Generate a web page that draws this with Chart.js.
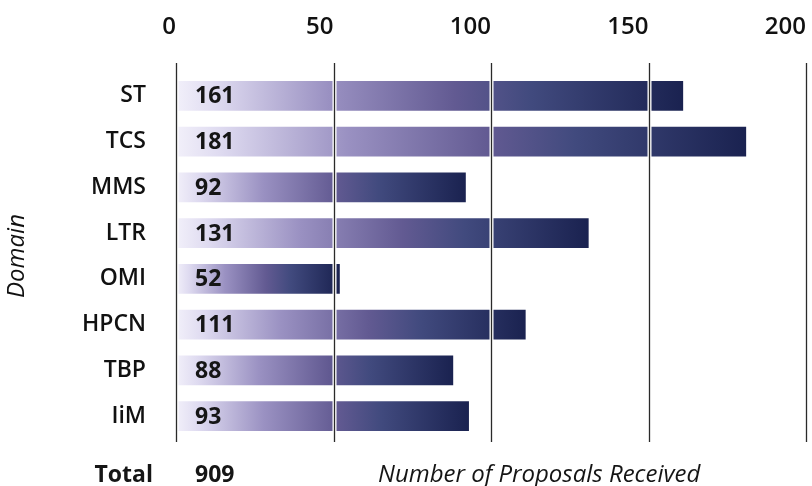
<!DOCTYPE html>
<html>
<head>
<meta charset="utf-8">
<script src="https://cdn.jsdelivr.net/npm/chart.js@4"></script>
<style>
  body { margin: 0; background: #fff; }
</style>
</head>
<body>
<canvas id="proposals-chart" width="812" height="486"></canvas>
<script>
const domains = ['ST', 'TCS', 'MMS', 'LTR', 'OMI', 'HPCN', 'TBP', 'IiM'];
const proposals = [161, 181, 92, 131, 52, 111, 88, 93];
const xTicks = [0, 50, 100, 150, 200];
const totalProposals = 909;

const FONT = "'Open Sans', sans-serif";

function barGradient(context) {
  const chart = context.chart;
  if (!chart.chartArea || context.type !== 'data') return '#3a4275';
  const x = chart.scales.x;
  const x0 = x.getPixelForValue(0);
  const x1 = x.getPixelForValue(context.raw);
  const g = chart.ctx.createLinearGradient(x0, 0, x1, 0);
  g.addColorStop(0, '#f2f0fa');
  g.addColorStop(0.08, '#dedaf0');
  g.addColorStop(0.3, '#9a91c2');
  g.addColorStop(0.55, '#625a92');
  g.addColorStop(0.7, '#414a7e');
  g.addColorStop(1, '#1a2250');
  return g;
}

// grid lines over the bars, value labels and the footer texts
const overlay = {
  id: 'overlay',
  afterDatasetsDraw(chart) {
    const { ctx, chartArea, scales: { x } } = chart;
    ctx.save();
    xTicks.forEach(v => {
      const px = Math.round(x.getPixelForValue(v)) + 0.5;
      ctx.beginPath();
      ctx.moveTo(px, chartArea.top - 10);
      ctx.lineTo(px, chartArea.bottom + 3);
      ctx.strokeStyle = '#ffffff';
      ctx.lineWidth = 4;
      ctx.stroke();
      ctx.strokeStyle = '#2a2a2a';
      ctx.lineWidth = 1.3;
      ctx.stroke();
    });

    const bars = chart.getDatasetMeta(0).data;
    const labelX = x.getPixelForValue(0) + 19;
    ctx.font = 'bold 23px ' + FONT;
    ctx.fillStyle = '#151515';
    ctx.textAlign = 'left';
    ctx.textBaseline = 'middle';
    bars.forEach((bar, i) => {
      ctx.fillText(String(proposals[i]), labelX, bar.y + 1);
    });

    const footY = 475;
    ctx.textAlign = 'right';
    ctx.fillText('Total', 153, footY);
    ctx.textAlign = 'left';
    ctx.fillText(String(totalProposals), labelX, footY);
    ctx.font = 'italic 24px ' + FONT;
    ctx.fillText('Number of Proposals Received', 378, footY);
    ctx.restore();
  }
};

new Chart(document.getElementById('proposals-chart'), {
  type: 'bar',
  data: {
    labels: domains,
    datasets: [{
      label: 'Proposals',
      data: proposals,
      backgroundColor: barGradient,
      borderWidth: 0,
      barPercentage: 0.65,
      categoryPercentage: 1
    }]
  },
  options: {
    indexAxis: 'y',
    responsive: false,
    animation: false,
    layout: { padding: { left: 0, right: 6, top: 0, bottom: 47 } },
    plugins: {
      legend: { display: false },
      tooltip: { enabled: false }
    },
    scales: {
      x: {
        position: 'top',
        min: 0,
        max: 200,
        afterBuildTicks: scale => { scale.ticks = xTicks.map(v => ({ value: v })); },
        afterFit: scale => {
          scale.height = 73;
          scale.paddingLeft = 0;
          scale.paddingRight = 0;
        },
        grid: { display: false },
        border: { display: false },
        ticks: {
          align: 'end',
          maxRotation: 0,
          minRotation: 0,
          autoSkip: false,
          padding: 23,
          color: '#111',
          font: { family: FONT, size: 24, weight: '600' }
        }
      },
      y: {
        afterFit: scale => { scale.width = 176; },
        grid: { display: false },
        border: { display: false },
        ticks: {
          padding: 22,
          color: '#111',
          font: { family: FONT, size: 23, weight: '600' }
        },
        title: {
          display: true,
          text: 'Domain',
          color: '#111',
          padding: { top: 3, bottom: 0 },
          font: { family: FONT, size: 24, style: 'italic' }
        }
      }
    }
  },
  plugins: [overlay]
});
</script>
</body>
</html>
